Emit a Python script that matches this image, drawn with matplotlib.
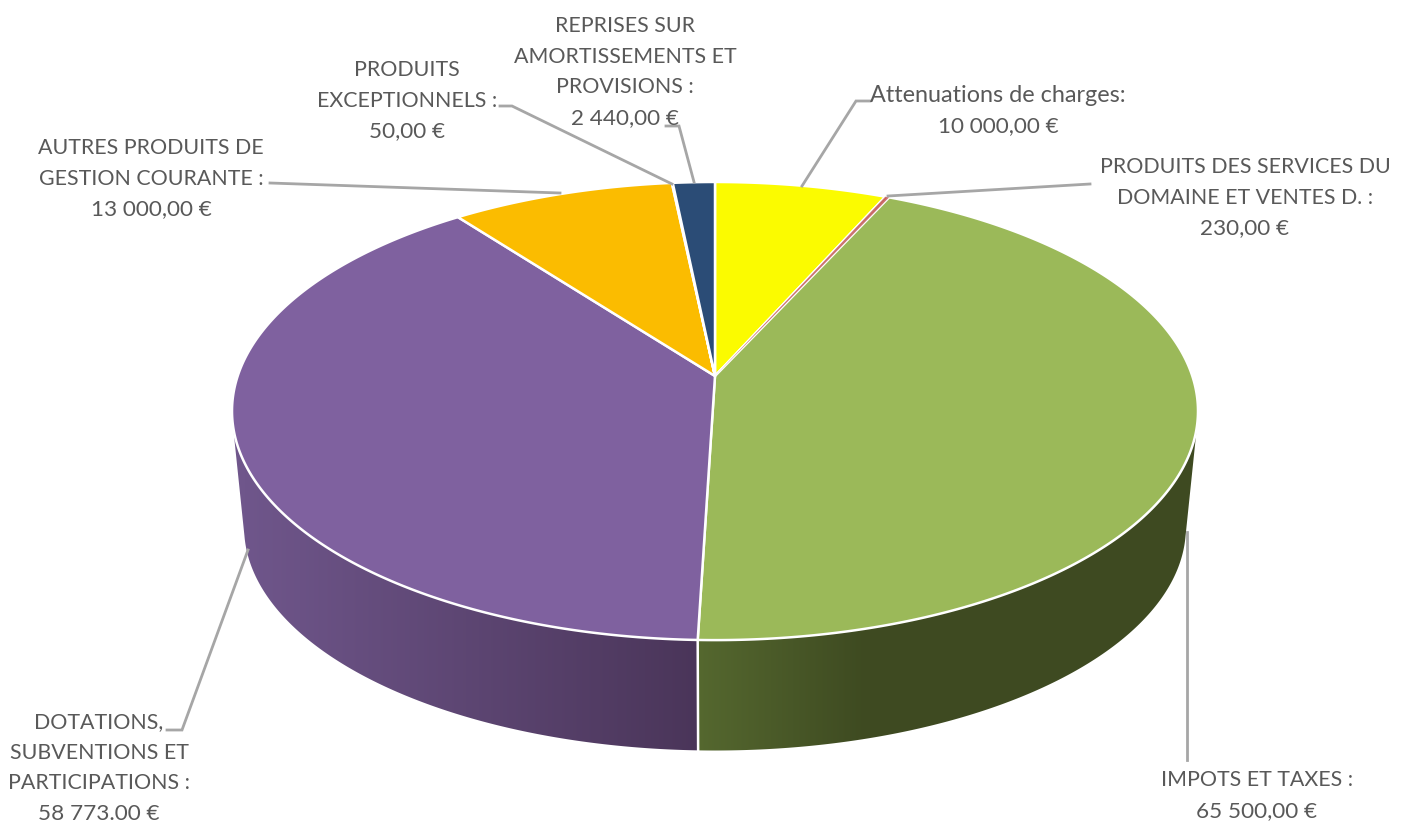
import numpy as np
import matplotlib
matplotlib.use('Agg')
import matplotlib.pyplot as plt
from matplotlib.patches import Polygon
from matplotlib.colors import to_rgb

plt.rcParams['font.family'] = ['Lato', 'DejaVu Sans']

# valeurs du graphique
categories = ['Attenuations de charges:',
              'PRODUITS DES SERVICES DU\nDOMAINE ET VENTES D. :',
              'IMPOTS ET TAXES :',
              'DOTATIONS,\nSUBVENTIONS ET\nPARTICIPATIONS :',
              'AUTRES PRODUITS DE\nGESTION COURANTE :',
              'PRODUITS\nEXCEPTIONNELS :',
              'REPRISES SUR\nAMORTISSEMENTS ET\nPROVISIONS :']
values = [10000, 230, 65500, 58773, 13000, 50, 2440]
value_labels = ['10 000,00 €', '230,00 €', '65 500,00 €', '58 773.00 €',
                '13 000,00 €', '50,00 €', '2 440,00 €']
colors = ['#fbfb00', '#c0504d', '#9bb959', '#7f619f', '#fbbc00', '#4bacc6', '#2b4c76']

# position du centre de chaque etiquette et premiere ligne (pixels)
label_pos = [(998, 95), (1245, 167), (1257, 780), (99, 722), (151, 148), (407, 70), (625, 26)]
leaders = [[(870, 101), (856, 101), (802, 186)],
           [(1090, 184), (888, 196)],
           [(1187, 760), (1187, 532)],
           [(167, 730), (182, 730), (248, 550)],
           [(270, 183), (560, 193)],
           [(500, 106), (512, 106), (672, 184)],
           [(666, 126), (679, 126), (694, 182)]]

# perspective du disque
cx, cy = 715, 376
A, B, k = 477.3, 223.7, 0.153
depth, shrink = 117, 0.975


def project(theta, bottom=False):
    # theta : angle en sens horaire depuis le haut
    X, Y = np.sin(theta), np.cos(theta)
    w = 1 + k * Y
    s = shrink if bottom else 1.0
    return cx + s * A * X / w, cy - s * B * Y / w + (depth if bottom else 0)


def gradient(c1, c2, x0, x1):
    # degrade horizontal sur toute la largeur de l'image
    t = np.clip((np.arange(1410) + 0.5 - x0) / (x1 - x0), 0, 1)[None, :, None]
    return np.array(to_rgb(c1))[None, None, :] * (1 - t) + np.array(to_rgb(c2))[None, None, :] * t


fig = plt.figure(figsize=(14.1, 8.23), dpi=100)
ax = fig.add_axes([0, 0, 1, 1])
ax.axis('off')

edges = np.concatenate([[0], np.cumsum(values)]) / np.sum(values) * 2 * np.pi

# flanc du disque : seules les parts verte et violette sont visibles
side_range = {2: (np.radians(101), edges[3]), 3: (edges[3], np.radians(259))}
side_grad = {2: gradient('#55682f', '#3e4a21', 697, 867), 3: gradient('#6f568b', '#4a3559', 245, 700)}
for i in side_range:
    th = np.linspace(side_range[i][0], side_range[i][1], 300)
    xt, yt = project(th)
    xb, yb = project(th[::-1], True)
    poly = Polygon(np.column_stack([np.r_[xt, xb], np.r_[yt, yb]]), closed=True,
                   transform=ax.transData, facecolor='none', edgecolor='none')
    ax.add_patch(poly)
    im = ax.imshow(side_grad[i], extent=(0, 1410, 823, 0), aspect='auto', zorder=1)
    im.set_clip_path(poly)

ax.set_xlim(0, 1410)
ax.set_ylim(823, 0)

# separation blanche sur le flanc
xa, ya = project(edges[3])
xb, yb = project(edges[3], True)
ax.plot([xa, xb], [ya, yb], color='white', lw=1.8, zorder=2)

# dessus du disque
for i in range(len(values)):
    steps = max(2, int((edges[i + 1] - edges[i]) * 120))
    th = np.linspace(edges[i], edges[i + 1], steps + 1)
    xs, ys = project(th)
    pts = [(cx, cy)] + list(zip(xs, ys))
    ax.add_patch(Polygon(pts, closed=True, facecolor=colors[i], edgecolor='white',
                         lw=1.8, joinstyle='round', zorder=3))
    if i == 1:
        # la part rouge est tres fine, on la repasse apres la voisine
        thin = pts

ax.add_patch(Polygon(thin, closed=True, facecolor=colors[1], edgecolor='none', alpha=0.8, zorder=3.5))

# lignes de rappel
for line in leaders:
    ax.plot([p[0] for p in line], [p[1] for p in line], color='#a6a6a6', lw=2,
            solid_joinstyle='miter', zorder=4)

# etiquettes : majuscules un peu plus petites, Lato est plus large que l'original
for cat, val, (lx, ly) in zip(categories, value_labels, label_pos):
    lines = cat.split('\n') + [val]
    for j, txt in enumerate(lines):
        size = 15.4 if txt.isupper() else (16.8 if txt[0].isalpha() else 16.2)
        ax.text(lx, ly + j * 30.6, txt, ha='center', va='center', fontsize=size,
                color='#595959', zorder=5)

fig.savefig('out.png', dpi=100)
plt.close(fig)
